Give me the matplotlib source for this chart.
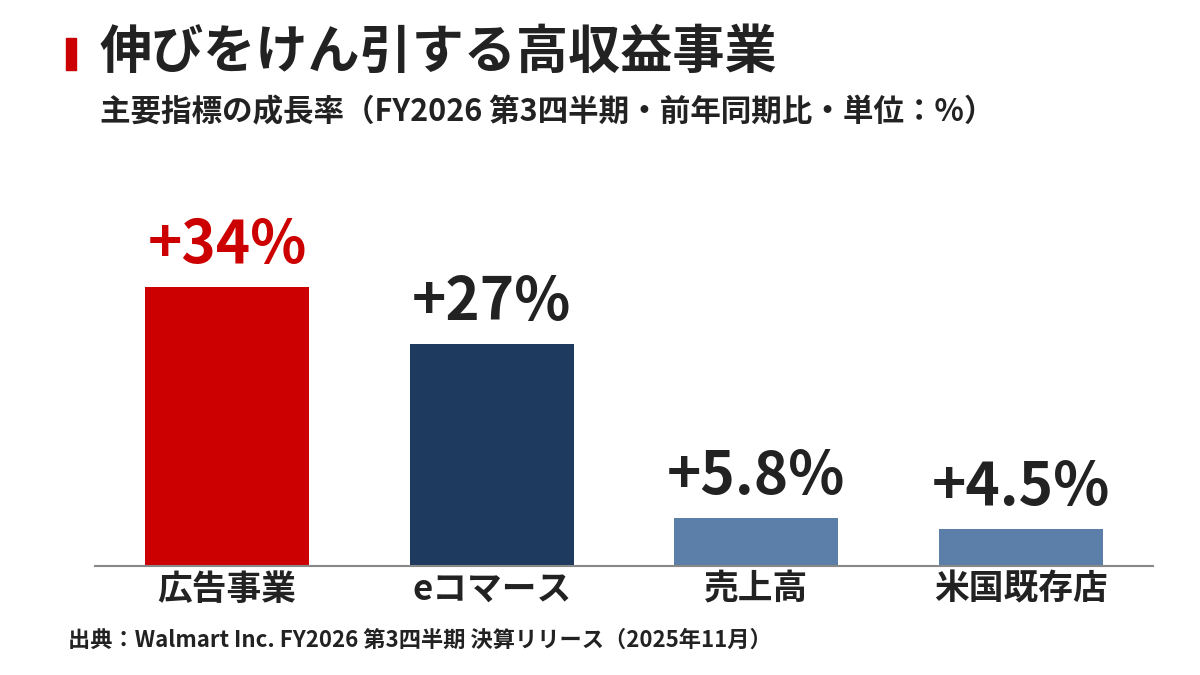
import matplotlib
matplotlib.use("Agg")
import matplotlib.pyplot as plt
from matplotlib.patches import Rectangle

plt.rcParams['font.family'] = ['Noto Sans CJK JP', 'DejaVu Sans']

categories = ['広告事業', 'eコマース', '売上高', '米国既存店']
values = [34, 27, 5.8, 4.5]
value_labels = ['+34%', '+27%', '+5.8%', '+4.5%']
bar_colors = ['#CC0000', '#1F3A5F', '#5B7FA8', '#5B7FA8']
label_colors = ['#CC0000', '#222222', '#222222', '#222222']

title = '伸びをけん引する高収益事業'
subtitle = '主要指標の成長率（FY2026 第3四半期・前年同期比・単位：%）'
source = '出典：Walmart Inc. FY2026 第3四半期 決算リリース（2025年11月）'

fig = plt.figure(figsize=(12, 6.75), dpi=100)
ax = fig.add_axes([95/1200, 1 - 566/675, (1153 - 95)/1200, (566 - 200)/675])

x = range(len(categories))
ax.bar(x, values, width=0.62, color=bar_colors, zorder=2)
for i, v in enumerate(values):
    ax.annotate(value_labels[i], (i, v), xytext=(0, 8), textcoords='offset points',
                ha='center', va='bottom', fontsize=42, fontweight='bold',
                color=label_colors[i])

ax.set_xlim(-0.5, 3.5)
ax.set_ylim(0, 44.6)
ax.set_xticks(list(x))
ax.set_xticklabels(categories, fontsize=25, fontweight='bold', color='#222222')
ax.tick_params(axis='x', length=0, pad=4)
ax.set_yticks([])
for s in ['top', 'right', 'left']:
    ax.spines[s].set_visible(False)
ax.spines['bottom'].set_color('#888888')
ax.spines['bottom'].set_linewidth(1.5)

fig.patches.append(Rectangle((66/1200, 1 - 70/675), 10/1200, 32/675,
                             transform=fig.transFigure, color='#CC0000'))
fig.text(100/1200, 1 - 52/675, title, fontsize=37.5, fontweight='bold',
         color='#222222', va='center', ha='left')
fig.text(100/1200, 1 - 112/675, subtitle, fontsize=22, fontweight='bold',
         color='#222222', va='center', ha='left')
fig.text(68/1200, 1 - 640/675, source, fontsize=16, fontweight='bold',
         color='#222222', va='center', ha='left')

fig.savefig('out.png', dpi=100)
